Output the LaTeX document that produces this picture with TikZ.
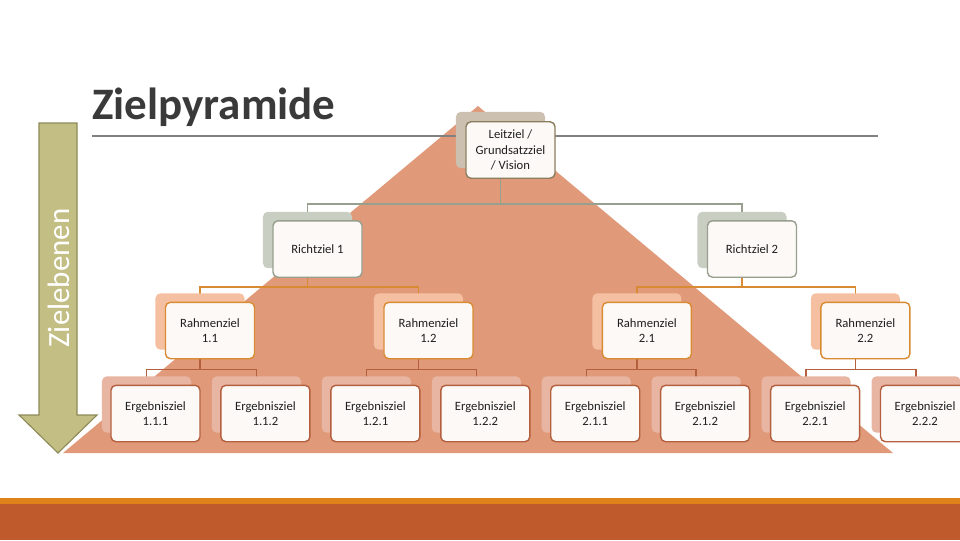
\documentclass[tikz,border=0pt]{standalone}
\usepackage{fontspec}
\setmainfont{Carlito}
\usetikzlibrary{positioning, shadows, backgrounds}

\definecolor{pyramid}{HTML}{E09A7A}
\definecolor{balkenrot}{HTML}{BE5A2C}
\definecolor{balkenorange}{HTML}{E0821A}
\definecolor{titelgrau}{HTML}{3A3A3A}
\definecolor{liniengrau}{HTML}{808080}
\definecolor{pfeilfill}{HTML}{C3BE84}
\definecolor{pfeilrand}{HTML}{8E8A58}
\definecolor{boxfill}{HTML}{FCF9F7}
\definecolor{leitrand}{HTML}{8B7D5E}
\definecolor{leitback}{HTML}{CCC1B1}
\definecolor{richtrand}{HTML}{979F8E}
\definecolor{richtback}{HTML}{C8CEC2}
\definecolor{rahmenrand}{HTML}{D98B33}
\definecolor{rahmenback}{HTML}{F5C0A1}
\definecolor{ergrand}{HTML}{B45F3E}
\definecolor{ergback}{HTML}{E8B5A3}

\tikzset{
  ziel/.style={rounded corners=3.5pt, line width=1pt, fill=boxfill,
    minimum width=2.225cm, minimum height=1.41cm, inner sep=0pt,
    align=center, text=black!88, font=\fontsize{9}{11}\selectfont},
  leit/.style={ziel, draw=leitrand,
    general shadow={fill=leitback, shadow xshift=-0.25cm, shadow yshift=0.25cm}},
  richt/.style={ziel, draw=richtrand,
    general shadow={fill=richtback, shadow xshift=-0.25cm, shadow yshift=0.225cm}},
  rahmen/.style={ziel, draw=rahmenrand,
    general shadow={fill=rahmenback, shadow xshift=-0.25cm, shadow yshift=0.225cm}},
  ergebnis/.style={ziel, draw=ergrand,
    general shadow={fill=ergback, shadow xshift=-0.225cm, shadow yshift=0.225cm}},
  leitlinie/.style={draw=richtrand, line width=1pt},
  rahmenlinie/.style={draw=rahmenrand, line width=1pt},
  erglinie/.style={draw=ergrand, line width=1pt}
}

\begin{document}
\begin{tikzpicture}[x=0.025cm, y=-0.025cm]
\useasboundingbox (0,0) rectangle (960,540);

% Balken unten
\fill[balkenrot] (0,504) rectangle (960,540);
\fill[balkenorange] (0,497.5) rectangle (960,504);

\begin{pgfonlayer}{background}
\fill[pyramid] (478,106) -- (893,453) -- (63,453) -- cycle;
\draw[liniengrau, line width=0.8pt] (92,136) -- (878,136);
\end{pgfonlayer}

\node[anchor=base west, inner sep=0pt, text=titelgrau, font=\bfseries\fontsize{32}{38}\selectfont] (titel) at (92,119) {Zielpyramide};

% Pfeil Zielebenen
\draw[fill=pfeilfill, draw=pfeilrand, line width=0.8pt]
  (39,123) -- (77,123) -- (77,415) -- (97,415) -- (58,453) -- (19,415) -- (39,415) -- cycle;
\node[rotate=90, text=white, font=\fontsize{22}{26}\selectfont] (ebenen) at (59,278) {Zielebenen};

% Zielebenen
\node[leit] (lz) at (510.5,150) {Leitziel /\\Grundsatzziel\\/ Vision};
\node[richt] (rz1) at (317.5,249) {Richtziel 1};
\node[richt] (rz2) at (752,249) {Richtziel 2};

\node[rahmen] (rm11) at (210,330.5) {Rahmenziel\\1.1};
\node[rahmen, right=3.2cm of rm11] (rm12) {Rahmenziel\\1.2};
\node[rahmen, right=3.2cm of rm12] (rm21) {Rahmenziel\\2.1};
\node[rahmen, right=3.2cm of rm21] (rm22) {Rahmenziel\\2.2};

\node[ergebnis] (ez111) at (155.5,413.5) {Ergebnisziel\\1.1.1};
\node[ergebnis, right=0.4875cm of ez111] (ez112) {Ergebnisziel\\1.1.2};
\node[ergebnis, right=0.4875cm of ez112] (ez121) {Ergebnisziel\\1.2.1};
\node[ergebnis, right=0.4875cm of ez121] (ez122) {Ergebnisziel\\1.2.2};
\node[ergebnis, right=0.4875cm of ez122] (ez211) {Ergebnisziel\\2.1.1};
\node[ergebnis, right=0.4875cm of ez211] (ez212) {Ergebnisziel\\2.1.2};
\node[ergebnis, right=0.4875cm of ez212] (ez221) {Ergebnisziel\\2.2.1};
\node[ergebnis, right=0.4875cm of ez221] (ez222) {Ergebnisziel\\2.2.2};

% Verbindungen
\begin{pgfonlayer}{background}
\draw[leitlinie] ([xshift=-0.25cm]lz.south) -- ++(0,25) -| ([xshift=-0.25cm]rz1.north);
\draw[leitlinie] ([xshift=-0.25cm]lz.south) -- ++(0,25) -| ([xshift=-0.25cm]rz2.north);
\draw[rahmenlinie] ([xshift=-0.25cm]rz1.south) -- ++(0,9) -| ([xshift=-0.25cm]rm11.north);
\draw[rahmenlinie] ([xshift=-0.25cm]rz1.south) -- ++(0,9) -| ([xshift=-0.25cm]rm12.north);
\draw[rahmenlinie] ([xshift=-0.25cm]rz2.south) -- ++(0,9) -| ([xshift=-0.25cm]rm21.north);
\draw[rahmenlinie] ([xshift=-0.25cm]rz2.south) -- ++(0,9) -| ([xshift=-0.25cm]rm22.north);
\draw[erglinie] ([xshift=-0.25cm]rm11.south) -- ++(0,10) -| ([xshift=-0.225cm]ez111.north);
\draw[erglinie] ([xshift=-0.25cm]rm11.south) -- ++(0,10) -| ([xshift=-0.225cm]ez112.north);
\draw[erglinie] ([xshift=-0.25cm]rm12.south) -- ++(0,10) -| ([xshift=-0.225cm]ez121.north);
\draw[erglinie] ([xshift=-0.25cm]rm12.south) -- ++(0,10) -| ([xshift=-0.225cm]ez122.north);
\draw[erglinie] ([xshift=-0.25cm]rm21.south) -- ++(0,10) -| ([xshift=-0.225cm]ez211.north);
\draw[erglinie] ([xshift=-0.25cm]rm21.south) -- ++(0,10) -| ([xshift=-0.225cm]ez212.north);
\draw[erglinie] ([xshift=-0.25cm]rm22.south) -- ++(0,10) -| ([xshift=-0.225cm]ez221.north);
\draw[erglinie] ([xshift=-0.25cm]rm22.south) -- ++(0,10) -| ([xshift=-0.225cm]ez222.north);
\end{pgfonlayer}
\end{tikzpicture}
\end{document}
